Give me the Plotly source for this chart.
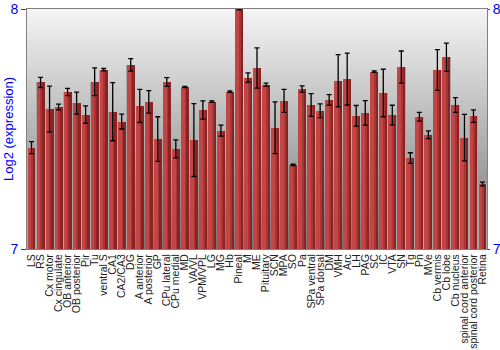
import plotly.graph_objects as go

categories = ["LS", "RS", "Cx motor", "Cx cingulate", "OB anterior", "OB posterior", "Pir", "Tu",
              "ventral S", "CA1", "CA2/CA3", "DG", "A anterior", "A posterior", "GP", "CPu lateral",
              "CPu medial", "MD", "VA/VL", "VPM/VPL", "LG", "MG", "Hb", "Pineal", "M", "ME",
              "Pituitary", "SCN", "MPA", "SO", "Pa", "SPa ventral", "SPa dorsal", "DM", "VMH", "Arc",
              "LH", "PAG", "SC", "IC", "VTA", "SN", "Tg", "Pn", "MVe", "Cb vermis", "Cb lobe",
              "Cb nucleus", "spinal cord anterior", "spinal cord posterior", "Retina"]

values = [7.422, 7.694, 7.583, 7.592, 7.654, 7.608, 7.560, 7.697,
          7.747, 7.572, 7.531, 7.767, 7.596, 7.613, 7.458, 7.696,
          7.417, 7.675, 7.454, 7.579, 7.614, 7.493, 7.656, 8.0, 7.714, 7.754,
          7.685, 7.505, 7.617, 7.351, 7.667, 7.600, 7.576, 7.621, 7.701, 7.708,
          7.555, 7.567, 7.739, 7.650, 7.558, 7.758, 7.379, 7.551, 7.476, 7.746, 7.799,
          7.600, 7.464, 7.554, 7.271]

errors = [0.025, 0.021, 0.096, 0.012, 0.015, 0.046, 0.036, 0.058,
          0.005, 0.121, 0.031, 0.026, 0.069, 0.047, 0.093, 0.018,
          0.0375, 0.003, 0.152, 0.038, 0.003, 0.023, 0.003, 0.004, 0.020, 0.084,
          0.006, 0.108, 0.048, 0.003, 0.013, 0.047, 0.029, 0.022, 0.109, 0.108,
          0.043, 0.051, 0.003, 0.099, 0.041, 0.067, 0.022, 0.018, 0.016, 0.085, 0.059,
          0.031, 0.097, 0.026, 0.008]

y_ticks = [7, 8]
blue = "#0000ff"

fig = go.Figure()

layers = [
    (0.94, -0.47, "#a8a8a8"),
    (0.88, -0.44, "#8a2424"),
    (0.62, -0.44, "#a83434"),
    (0.42, -0.44, "#c24646"),
]
for w, off, col in layers:
    fig.add_trace(go.Bar(
        x=categories, y=[v - 7 for v in values], base=7,
        width=w, offset=off, marker=dict(color=col, line=dict(width=0)),
        hoverinfo="skip", showlegend=False,
    ))

fig.add_trace(go.Scatter(
    x=categories, y=values, mode="markers",
    marker=dict(size=1, opacity=0),
    error_y=dict(type="data", array=errors, visible=True, color="black", thickness=1.3, width=2.5),
    showlegend=False,
))

fig.add_trace(go.Scatter(x=[categories[0]], y=[7], yaxis="y2", mode="markers",
                         marker=dict(opacity=0), showlegend=False, hoverinfo="skip"))

n = 60
for i in range(n):
    t = i / (n - 1)
    g = int(round(244 - (244 - 120) * t))
    fig.add_shape(type="rect", xref="paper", yref="paper", x0=0, x1=1,
                  y0=1 - (i + 1) / n, y1=1 - i / n + 0.002,
                  fillcolor=f"rgb({g},{g},{g})", line=dict(width=0), layer="below")

fig.add_annotation(text="Log2 (expression)", xref="paper", yref="paper",
                   x=(8 - 27) / 460, y=0.5, textangle=-90, showarrow=False,
                   font=dict(size=13, color=blue), xanchor="center", yanchor="middle")

fig.update_layout(
    width=500, height=350,
    margin=dict(l=27, r=13, t=9, b=101),
    paper_bgcolor="white", plot_bgcolor="rgba(0,0,0,0)",
    barmode="overlay", bargap=0,
    font=dict(family="Arial, Liberation Sans, sans-serif", size=10.5, color="#222"),
    xaxis=dict(type="category", range=[-0.5, len(categories) - 0.5], tickangle=-90,
               tickmode="array", tickvals=categories, ticktext=categories, automargin=False,
               showline=True, linecolor="#808080", mirror=True, ticks="", showgrid=False,
               tickfont=dict(size=10.5, color="#222")),
    yaxis=dict(range=[7, 8], tickvals=y_ticks, ticktext=[str(t) for t in y_ticks],
               tickfont=dict(size=14, color=blue), showgrid=False, ticks="outside",
               ticklen=5, tickcolor="#444", showline=True, linecolor="#808080", automargin=False),
    yaxis2=dict(range=[7, 8], tickvals=y_ticks, ticktext=[str(t) for t in y_ticks],
                overlaying="y", side="right", tickfont=dict(size=14, color=blue),
                showgrid=False, ticks="outside", ticklen=2, tickcolor="#444",
                showline=True, linecolor="#808080", automargin=False),
)

fig.write_html("out.html")
